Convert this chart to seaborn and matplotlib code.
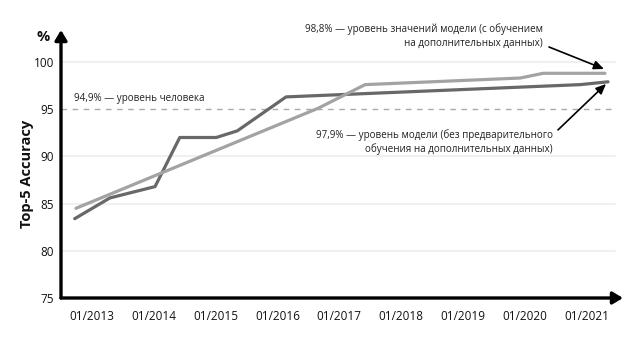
import matplotlib
matplotlib.use("Agg")
import matplotlib.pyplot as plt
import seaborn as sns
import pandas as pd

# Data (x in fractional years)
base_x = [2012.72, 2013.29, 2014.02, 2014.42, 2015.01, 2015.35, 2016.14, 2020.90, 2021.35]
base_y = [83.4, 85.6, 86.8, 92.0, 92.0, 92.7, 96.3, 97.6, 97.9]
extra_x = [2012.74, 2016.66, 2017.42, 2019.93, 2020.30, 2021.30]
extra_y = [84.5, 95.1, 97.6, 98.3, 98.8, 98.8]
human_level = 94.9
tick_years = [2013, 2014, 2015, 2016, 2017, 2018, 2019, 2020, 2021]
tick_labels = ["01/2013", "01/2014", "01/2015", "01/2016", "01/2017",
               "01/2018", "01/2019", "01/2020", "01/2021"]
y_ticks = [75, 80, 85, 90, 95, 100]

sns.set_theme(style="white")
plt.rcParams['font.family'] = ['Open Sans', 'DejaVu Sans']

df = pd.concat([
    pd.DataFrame({"x": base_x, "y": base_y, "s": "base"}),
    pd.DataFrame({"x": extra_x, "y": extra_y, "s": "extra"}),
])

fig = plt.figure(figsize=(6.43, 3.41), dpi=100)
ax = fig.add_axes([61/643, 1-298/341, (623-61)/643, (298-30)/341])

x0 = 2013 + (61 - 92) / 61.8
x1 = 2013 + (623 - 92) / 61.8
ax.set_xlim(x0, x1)
ylo = 75
yhi = 100 + (62 - 30) / 9.45
ax.set_ylim(ylo, yhi)

# gridlines
grid_end = (615 - 61) / (623 - 61)
for g in [80, 85, 90, 100]:
    ax.axhline(g, xmin=0, xmax=grid_end, color="#eeeeee", lw=1.2, zorder=0)
ax.axhline(human_level + 0.1, xmin=0, xmax=grid_end, color="#aaaaaa", lw=1.0,
           ls=(0, (4, 4)), zorder=1)

sns.lineplot(data=df, x="x", y="y", hue="s", palette={"base": "#686868", "extra": "#a3a3a3"},
             estimator=None, sort=False, lw=2.3, ax=ax, legend=False, zorder=3)

for sp in ax.spines.values():
    sp.set_visible(False)

# axes arrows
ax.annotate("", xy=(1.0, 0), xytext=(0, 0), xycoords="axes fraction",
            arrowprops=dict(arrowstyle="-|>,head_length=0.5,head_width=0.3", lw=2.4, color="black",
                            shrinkA=0, shrinkB=0), annotation_clip=False)
ax.annotate("", xy=(0, 1.0), xytext=(0, 0), xycoords="axes fraction",
            arrowprops=dict(arrowstyle="-|>,head_length=0.5,head_width=0.3", lw=2.4, color="black",
                            shrinkA=0, shrinkB=0), annotation_clip=False)

ax.set_xticks(tick_years)
ax.set_xticklabels(tick_labels)
ax.set_yticks(y_ticks)
ax.set_yticklabels([str(v) for v in y_ticks])
ax.tick_params(axis="both", length=0, labelsize=8.5, colors="#111111")
ax.tick_params(axis="x", pad=9)
ax.tick_params(axis="y", pad=5)
ax.set_xlabel("")
ax.set_ylabel("")

fig.text(27/643, 1-174/341, "Top-5 Accuracy", rotation=90, ha="center", va="center",
         fontsize=10.5, fontweight="bold", color="#111111")
fig.text(43/643, 1-37/341, "%", ha="center", va="center", fontsize=10.5,
         fontweight="bold", color="#111111")

ax.text(x0 + (74 - 61) / 61.8, human_level + 0.6, "94,9% — уровень человека",
        fontsize=7.1, ha="left", va="bottom", color="#222222")

def px2x(px):
    return 2013 + (px - 92) / 61.8

def py2y(py):
    return 100 - (py - 62) / 9.45

ax.text(px2x(543), py2y(36), "98,8% — уровень значений модели (с обучением\nна дополнительных данных)",
        fontsize=7.1, ha="right", va="center", multialignment="right", color="#222222",
        linespacing=1.3)
ax.text(px2x(553), py2y(142), "97,9% — уровень модели (без предварительного\nобучения на дополнительных данных)",
        fontsize=7.1, ha="right", va="center", multialignment="right", color="#222222",
        linespacing=1.3)

ax.annotate("", xy=(px2x(604), py2y(69)), xytext=(px2x(549), py2y(47)),
            arrowprops=dict(arrowstyle="-|>,head_length=0.5,head_width=0.22", lw=1.2,
                            color="black", shrinkA=0, shrinkB=0), annotation_clip=False)
ax.annotate("", xy=(px2x(606), py2y(84)), xytext=(px2x(558), py2y(130)),
            arrowprops=dict(arrowstyle="-|>,head_length=0.5,head_width=0.22", lw=1.2,
                            color="black", shrinkA=0, shrinkB=0), annotation_clip=False)

fig.savefig("out.png", dpi=100)
